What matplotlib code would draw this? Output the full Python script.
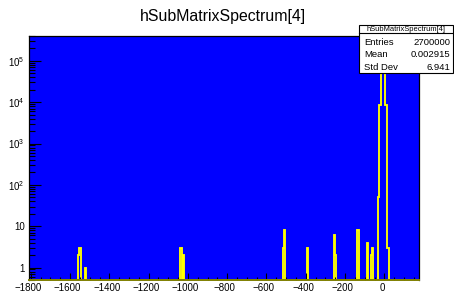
import numpy as np
import matplotlib
matplotlib.use("Agg")
import matplotlib.pyplot as plt
from matplotlib.patches import Rectangle
from matplotlib.lines import Line2D
from matplotlib.transforms import ScaledTranslation
from matplotlib.ticker import MultipleLocator, LogLocator, NullFormatter

plt.rcParams['font.family'] = ['Liberation Sans', 'DejaVu Sans']
plt.rcParams['mathtext.fontset'] = 'custom'
plt.rcParams['mathtext.rm'] = 'Liberation Sans'
plt.rcParams['mathtext.it'] = 'Liberation Sans:italic'
plt.rcParams['mathtext.bf'] = 'Liberation Sans:bold'

# histogram binning (5 units per bin), only non-empty bins listed
bin_width = 5
x_low, x_high = -1812.5, 182.5
filled_centers = [-1555, -1550, -1545, -1520, -1040, -1035, -1020,
                  -515, -510, -390, -255, -250, -135, -130, -85, -65, -60,
                  -30, -25, -20, -15, -10, -5, 0, 5, 10, 15, 20]
filled_counts = [2, 3, 3, 1, 3, 3, 2,
                 3, 8, 3, 6, 2, 8, 8, 4, 2, 3,
                 51, 8500, 8500, 670000, 675000, 675000, 670000, 8500, 8500, 3, 3]

title = "hSubMatrixSpectrum[4]"
stat_names = ["Entries", "Mean", "Std Dev"]
stat_values = ["2700000", "0.002915", "6.941"]

y_ticks = [1, 10, 1e2, 1e3, 1e4, 1e5]
y_labels = ["1", "10", "$10^{2}$", "$10^{3}$", "$10^{4}$", "$10^{5}$"]

W, H = 454, 294
ymin, ymax = 0.5, 4e5

edges = np.arange(x_low, x_high + 0.01, bin_width)
counts = np.zeros(len(edges) - 1)
idx = np.searchsorted(edges, np.array(filled_centers, dtype=float)) - 1
counts[idx] = filled_counts
# empty bins sit on the bottom of the frame like in ROOT
counts = np.where(counts > 0, counts, ymin)

fig = plt.figure(figsize=(W / 100, H / 100), dpi=100)

def fx(px):
    return px / W

def fy(py):
    return 1 - py / H

ax = fig.add_axes([fx(28.8), fy(280), fx(419.3) - fx(28.8), fy(36) - fy(280)])
ax.set_facecolor('#0000ff')
ax.stairs(counts, edges, baseline=None, color='#ffff00', lw=1.35)
ax.set_yscale('log')
ax.set_xlim(-1810, 178)
ax.set_ylim(ymin, ymax)

for s in ax.spines.values():
    s.set_linewidth(0.9)
    s.set_color('black')
ax.spines['bottom'].set_color('#7f7f00')
ax.spines['bottom'].set_linewidth(1.4)

ax.xaxis.set_major_locator(MultipleLocator(200))
ax.xaxis.set_minor_locator(MultipleLocator(50))
ax.set_yticks(y_ticks, labels=y_labels)
ax.yaxis.set_minor_locator(LogLocator(base=10, subs=np.arange(2, 10) * 1.0, numticks=20))
ax.yaxis.set_minor_formatter(NullFormatter())

ax.tick_params(axis='x', which='major', direction='in', length=5, width=0.8,
               labelsize=7, pad=2.5, top=False)
ax.tick_params(axis='x', which='minor', direction='in', length=2.5, width=0.8, top=False)
ax.tick_params(axis='y', which='major', direction='in', length=8.6, width=0.8,
               labelsize=7, pad=3, right=False)
ax.tick_params(axis='y', which='minor', direction='in', length=4.3, width=0.8, right=False)

fig.text(fx(222.5), fy(16), title, fontsize=11.4, ha='center', va='center')

# stats box
bx0, bx1, by0, by1 = 359, 453, 25, 73.3
box = Rectangle((fx(bx0), fy(by1)), fx(bx1) - fx(bx0), fy(by0) - fy(by1),
                transform=fig.transFigure, fc='white', ec='black', lw=0.8, zorder=10)
fig.add_artist(box)
fig.add_artist(Line2D([fx(bx0), fx(bx1)], [fy(33.3), fy(33.3)],
                      transform=fig.transFigure, color='black', lw=0.8, zorder=11))
fig.text(fx(406), fy(29.2), title, fontsize=5.4, ha='center', va='center', zorder=12)
for i, (name, val) in enumerate(zip(stat_names, stat_values)):
    yy = [42.7, 54.8, 67.0][i]
    fig.text(fx(364), fy(yy), name, fontsize=6.8, ha='left', va='center', zorder=12)
    fig.text(fx(450), fy(yy), val, fontsize=6.8, ha='right', va='center', zorder=12)

# ROOT puts the x labels a little left of their ticks
fig.canvas.draw()
shift = ScaledTranslation(-2.5 / 100, 0, fig.dpi_scale_trans)
for lab in ax.get_xticklabels():
    lab.set_transform(lab.get_transform() + shift)

fig.savefig('out.png', dpi=100)
